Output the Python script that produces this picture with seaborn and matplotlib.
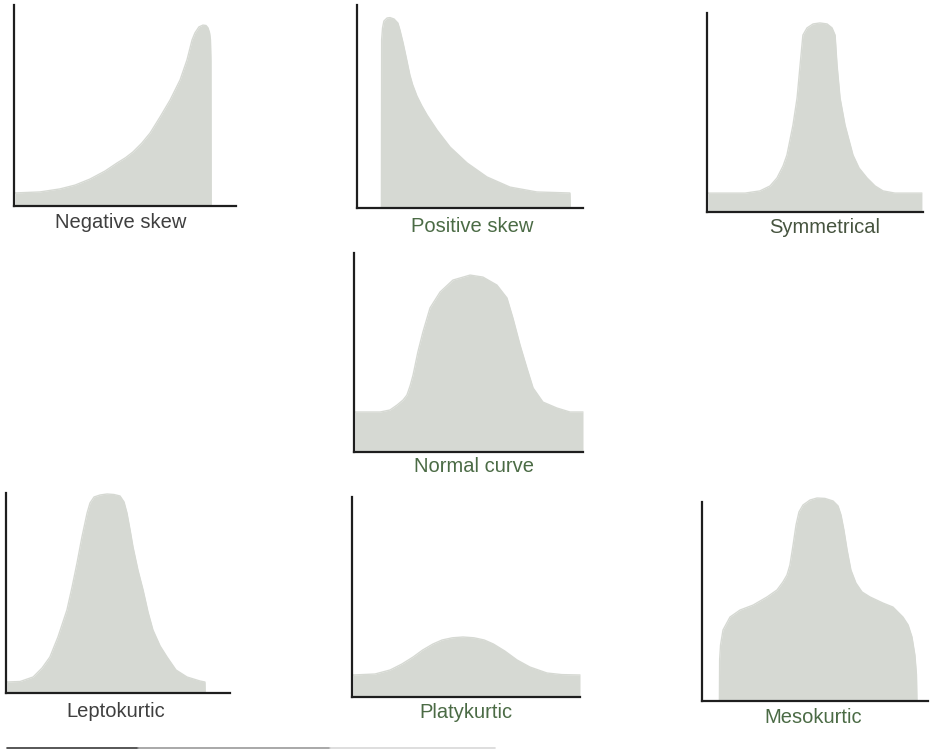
import matplotlib
matplotlib.use("Agg")
import matplotlib.pyplot as plt
from matplotlib.lines import Line2D
import seaborn as sns
import pandas as pd

sns.set_style("white")
plt.rcParams['font.family'] = ['Liberation Sans', 'DejaVu Sans']

# ---- data: curve heights (percent of axis height) at x positions (percent of axis width)
neg_x = [0.5, 11.7, 20.7, 27.5, 34.2, 41.0, 46.4, 50.2, 53.6, 57.5, 61.3, 65.8, 70.3, 74.8, 77.9,
         80.2, 81.5, 83.3, 85.1, 86.5, 87.4, 88.1, 88.5, 88.7, 88.8]
neg_y = [6.5, 7.0, 8.5, 10.4, 13.4, 17.4, 21.4, 24.0, 26.9, 31.2, 36.3, 44.3, 52.7, 62.7, 72.6,
         82.6, 86.1, 89.1, 90.0, 89.8, 88.6, 86.1, 82.6, 72.6, 0.0]

pos_x = [10.8, 10.9, 11.3, 11.9, 13.3, 14.6, 16.4, 18.1, 19.0, 20.4, 21.9, 23.4, 24.6, 26.5, 28.6,
         31.0, 35.4, 41.2, 48.7, 57.5, 67.7, 79.6, 94.2, 94.4]
pos_y = [0.0, 82.8, 88.7, 92.1, 93.6, 93.8, 93.1, 91.1, 87.7, 81.3, 73.5, 65.5, 60.8, 55.2, 50.5,
         45.8, 38.4, 30.0, 22.2, 15.3, 10.3, 7.9, 7.4, 0.0]

sym_x = [0.5, 17.6, 24.5, 29.2, 32.4, 35.2, 37.0, 39.8, 41.7, 43.1, 44.4, 46.3, 49.1, 52.3, 55.6,
         57.9, 59.3, 60.2, 61.6, 63.9, 67.6, 70.4, 74.1, 77.8, 81.5, 87.0, 99.5]
sym_y = [9.5, 9.5, 10.6, 13.1, 17.1, 23.1, 28.6, 43.7, 57.3, 73.9, 88.9, 92.5, 94.5, 95.0, 94.5,
         92.5, 88.9, 73.9, 57.3, 43.7, 28.6, 22.1, 17.1, 13.1, 10.6, 9.5, 9.5]

nor_x = [0.4, 11.4, 15.7, 18.8, 21.4, 23.1, 24.5, 25.8, 27.9, 30.1, 33.2, 37.6, 43.2, 50.7, 56.3,
         62.4, 66.8, 69.4, 72.5, 75.5, 78.2, 82.5, 88.6, 94.3, 100.0]
nor_y = [20.1, 20.1, 21.1, 23.6, 26.1, 28.6, 33.2, 38.7, 50.3, 60.3, 72.4, 80.4, 86.4, 88.9, 87.9,
         83.9, 77.4, 67.3, 53.8, 42.2, 32.2, 25.1, 22.1, 20.1, 20.1]

lep_x = [0.4, 6.3, 12.1, 16.1, 19.6, 23.2, 27.2, 29.5, 31.7, 33.9, 36.2, 37.5, 39.3, 42.0, 45.1,
         48.2, 50.9, 52.7, 54.0, 55.4, 56.7, 58.9, 61.2, 63.4, 65.6, 68.8, 71.9, 75.9, 80.8, 86.6,
         88.8, 88.9]
lep_y = [5.5, 5.75, 8.0, 12.5, 18.0, 28.0, 41.5, 53.0, 65.0, 78.0, 90.0, 95.0, 98.0, 99.0, 99.5,
         99.25, 98.5, 95.5, 90.0, 81.5, 73.0, 61.5, 51.5, 40.5, 31.5, 23.5, 18.0, 11.5, 8.0, 6.0,
         5.5, 0.0]

pla_x = [0.4, 10.1, 16.7, 21.9, 26.8, 31.0, 35.5, 39.5, 44.0, 48.7, 53.5, 58.0, 62.0, 67.0, 72.4,
         78.0, 85.5, 92.0, 100.0]
pla_y = [11.0, 11.5, 13.5, 16.5, 20.0, 23.5, 26.5, 28.5, 29.6, 30.0, 29.6, 28.5, 26.5, 23.0, 18.5,
         15.0, 12.0, 11.2, 11.0]

mes_x = [7.7, 7.8, 8.2, 9.3, 12.4, 16.8, 22.6, 28.8, 33.2, 35.8, 37.6, 38.9, 40.3, 41.6, 42.9,
         44.7, 47.8, 50.9, 54.4, 58.0, 60.2, 61.5, 62.8, 64.2, 65.9, 68.1, 70.8, 74.3, 80.1, 84.5,
         88.9, 91.2, 92.9, 94.2, 94.9, 95.1]
mes_y = [0.0, 20.6, 28.1, 35.7, 42.2, 45.7, 48.2, 52.3, 55.8, 59.8, 63.3, 68.3, 78.4, 88.4, 95.0,
         98.5, 101.0, 102.0, 101.8, 100.5, 98.0, 93.5, 85.9, 75.9, 65.8, 59.3, 54.8, 52.3, 49.2, 47.2,
         42.2, 38.2, 32.2, 23.1, 13.1, 0.0]

labels = ["Negative skew", "Positive skew", "Symmetrical", "Normal curve",
          "Leptokurtic", "Platykurtic", "Mesokurtic"]

curves = [(neg_x, neg_y), (pos_x, pos_y), (sym_x, sym_y), (nor_x, nor_y),
          (lep_x, lep_y), (pla_x, pla_y), (mes_x, mes_y)]

# ---- layout (pixels): axis-frame left, bottom, width, height ; label center x, baseline y
W, H = 933, 751
frames = [(14, 206, 222, 201), (357, 208, 226, 203), (707, 212, 216, 199),
          (354, 452, 229, 199), (6, 693, 224, 200), (352, 697, 228, 200),
          (702, 701, 226, 199)]
label_pos = [(121, 228), (472, 232), (825, 233), (474, 472),
             (116, 717), (466, 718), (813, 723)]
label_col = ["#3f3f3f", "#4b6b45", "#46543f", "#4b6b45", "#3f3f3f", "#4b6b45", "#4b6b45"]

FILL = "#d6d9d3"
AXC = "#1e1e1e"

fig = plt.figure(figsize=(W / 100, H / 100), dpi=100)
fig.patch.set_facecolor("white")

for (xs, ys), (l, b, w, h), lab, (lx, ly), lc in zip(curves, frames, labels, label_pos, label_col):
    ax = fig.add_axes([l / W, 1 - b / H, w / W, h / H])
    df = pd.DataFrame({"x": xs, "y": ys})
    ax.fill_between(df["x"], 0, df["y"], color=FILL, linewidth=0, clip_on=False, zorder=1)
    sns.lineplot(data=df, x="x", y="y", ax=ax, color=FILL, linewidth=1.0,
                 sort=False, estimator=None, clip_on=False, zorder=1)
    ax.set_xlim(0, 100)
    ax.set_ylim(0, 100)
    ax.set_xticks([])
    ax.set_yticks([])
    ax.set_xlabel("")
    ax.set_ylabel("")
    ax.patch.set_alpha(0)
    for s in ["top", "right"]:
        ax.spines[s].set_visible(False)
    for s in ["left", "bottom"]:
        ax.spines[s].set_color(AXC)
        ax.spines[s].set_linewidth(1.6)
        ax.spines[s].set_zorder(3)
    fig.text(lx / W, 1 - ly / H, lab, ha="center", va="baseline",
             fontsize=14.5, color=lc)

# page rule at the bottom of the scan
fig.add_artist(Line2D([7 / W, 138 / W], [1 - 748 / H] * 2, color="#3a3a3a", linewidth=1.2))
fig.add_artist(Line2D([138 / W, 330 / W], [1 - 748 / H] * 2, color="#9a9a9a", linewidth=1.2))
fig.add_artist(Line2D([330 / W, 495 / W], [1 - 748 / H] * 2, color="#d8d8d8", linewidth=1.2))

fig.savefig("out.png", dpi=100, facecolor="white")
